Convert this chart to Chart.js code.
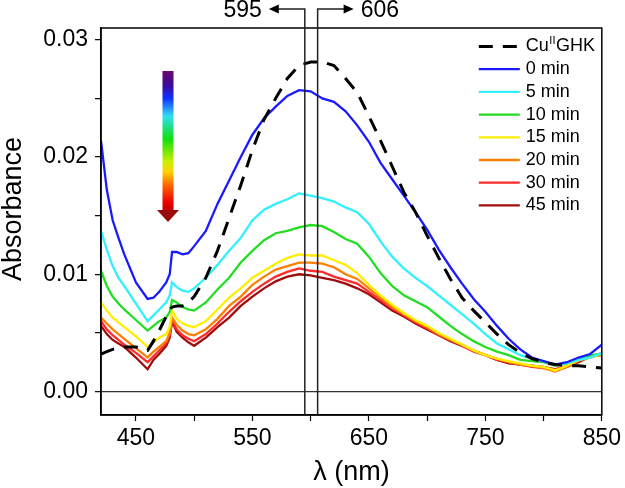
<!DOCTYPE html>
<html>
<head>
<meta charset="utf-8">
<script src="https://cdn.jsdelivr.net/npm/chart.js@4"></script>
<style>
  html, body { margin: 0; padding: 0; background: #fff; }
</style>
</head>
<body>
<canvas id="absChart" width="625" height="488"></canvas>
<script>
// wavelengths (nm) and absorbance values
const wavelengths = [420, 425, 430, 435, 440,
  450, 460, 465, 470, 476,
  479, 481, 485, 490, 495,
  500, 510, 520, 530, 540,
  550, 560, 570, 580, 590, 600, 610, 620, 630, 640,
  650, 660, 670, 680, 690, 700, 710, 720, 730, 740,
  750, 760, 770, 780, 790, 800, 810, 820, 830, 840, 850];

const cuGHK = [.0032, .0034, .0036, .0037, .0038,
  .0038, .0035, .0043, .0052, .0064,
  .0070, .0072, .0073, .0073, .0076,
  .0081, .0097, .0120, .0148, .0176,
  .0206, .0232, .0250, .0267, .0278, .0281, .0281, .0278, .0267, .0255,
  .0235, .0214, .0192, .0170, .0153, .0133, .0114, .0096, .0080, .0069,
  .0059, .0049, .0040, .0033, .0028, .0025, .0023, .0022, .0022, .0021, .0020];

const min0 = [.0214, .0172, .0146, .0131, .0117,
  .0093, .0079, .0080, .0085, .0093,
  .0100, .0119, .0119, .0117, .0118,
  .0124, .0137, .0160, .0180, .0200,
  .0219, .0233, .0243, .0252, .0257, .0256, .0250, .0247, .0239, .0227,
  .0213, .0195, .0181, .0167, .0153, .0138, .0121, .0106, .0092, .0079,
  .0068, .0056, .0045, .0036, .0029, .0026, .0023, .0025, .0029, .0032, .0040];

const min5 = [.0137, .0121, .0107, .0097, .0090,
  .0075, .0060, .0065, .0070, .0076,
  .0082, .0093, .0089, .0086, .0085,
  .0088, .0097, .0108, .0120, .0131,
  .0146, .0155, .0160, .0164, .0169, .0167, .0165, .0162, .0157, .0153,
  .0143, .0128, .0115, .0105, .0097, .0090, .0082, .0074, .0066, .0058,
  .0049, .0041, .0036, .0031, .0028, .0026, .0023, .0024, .0027, .0029, .0033];

const min10 = [.0103, .0090, .0081, .0075, .0070,
  .0061, .0052, .0056, .0060, .0063,
  .0068, .0078, .0076, .0072, .0070,
  .0069, .0076, .0087, .0097, .0110,
  .0120, .0129, .0135, .0137, .0140, .0142, .0141, .0136, .0130, .0126,
  .0115, .0101, .0090, .0082, .0077, .0072, .0064, .0056, .0049, .0043,
  .0038, .0034, .0031, .0027, .0026, .0025, .0022, .0024, .0028, .0031, .0032];

const min15 = [.0076, .0069, .0063, .0059, .0055,
  .0047, .0038, .0042, .0046, .0049,
  .0055, .0069, .0062, .0058, .0056,
  .0055, .0060, .0070, .0080, .0088,
  .0097, .0103, .0109, .0114, .0117, .0116, .0116, .0112, .0108, .0101,
  .0091, .0082, .0074, .0067, .0061, .0056, .0050, .0045, .0040, .0035,
  .0031, .0028, .0026, .0024, .0022, .0021, .0018, .0022, .0027, .0029, .0032];

const min20 = [.0063, .0058, .0053, .0049, .0045,
  .0037, .0029, .0034, .0038, .0043,
  .0050, .0063, .0057, .0052, .0049,
  .0048, .0053, .0062, .0073, .0081,
  .0091, .0098, .0104, .0107, .0110, .0110, .0109, .0106, .0100, .0096,
  .0088, .0080, .0072, .0066, .0060, .0055, .0049, .0044, .0040, .0035,
  .0031, .0028, .0025, .0023, .0022, .0020, .0017, .0021, .0026, .0030, .0031];

const min30 = [.0060, .0053, .0048, .0044, .0040,
  .0033, .0025, .0030, .0035, .0041,
  .0048, .0061, .0053, .0048, .0045,
  .0043, .0049, .0058, .0068, .0077,
  .0085, .0092, .0098, .0102, .0105, .0103, .0102, .0098, .0095, .0092,
  .0085, .0078, .0071, .0065, .0059, .0054, .0048, .0044, .0039, .0034,
  .0031, .0027, .0025, .0023, .0021, .0020, .0019, .0022, .0027, .0029, .0033];

const min45 = [.0056, .0049, .0044, .0041, .0038,
  .0029, .0019, .0027, .0032, .0039,
  .0046, .0060, .0051, .0046, .0042,
  .0039, .0046, .0055, .0063, .0073,
  .0081, .0088, .0094, .0098, .0100, .0099, .0097, .0095, .0092, .0088,
  .0083, .0076, .0069, .0064, .0058, .0053, .0048, .0043, .0039, .0035,
  .0031, .0027, .0024, .0023, .0022, .0021, .0019, .0021, .0025, .0030, .0031];

const seriesLabels = ['CuIIGHK', '0 min', '5 min', '10 min', '15 min', '20 min', '30 min', '45 min'];
const seriesValues = [cuGHK, min0, min5, min10, min15, min20, min30, min45];
const seriesColors = ['#000000', '#1a1aff', '#33f0ff', '#22dd22', '#ffee00', '#ff7f00', '#ff2a2a', '#a00c0c'];

const peakMarks = [595, 606];

const FONT = '"Liberation Sans", Arial, sans-serif';

const toPoints = vals => vals.map((v, i) => ({ x: wavelengths[i], y: v }));

const datasets = seriesValues.map((vals, i) => ({
  label: seriesLabels[i],
  data: toPoints(vals),
  borderColor: seriesColors[i],
  borderWidth: i === 0 ? 3 : 2.3,
  borderDash: i === 0 ? [14, 10] : [],
  pointRadius: 0,
  tension: 0,
  fill: false
}));

const decorations = {
  id: 'decorations',
  afterDraw(chart) {
    const ctx = chart.ctx;
    const area = chart.chartArea;
    const xs = chart.scales.x;
    ctx.save();

    // plot frame
    ctx.strokeStyle = '#000';
    ctx.lineWidth = 1.5;
    ctx.strokeRect(area.left, area.top, area.right - area.left, area.bottom - area.top);

    // 595 / 606 markers
    peakMarks.forEach((nm, i) => {
      const px = xs.getPixelForValue(nm);
      const dir = i === 0 ? -1 : 1;
      const yTop = 9;
      ctx.strokeStyle = '#222';
      ctx.lineWidth = 1.5;
      ctx.beginPath();
      ctx.moveTo(px, area.bottom);
      ctx.lineTo(px, yTop);
      ctx.lineTo(px + dir * 28, yTop);
      ctx.stroke();
      ctx.fillStyle = '#000';
      ctx.beginPath();
      ctx.moveTo(px + dir * 36, yTop);
      ctx.lineTo(px + dir * 26, yTop - 4.5);
      ctx.lineTo(px + dir * 26, yTop + 4.5);
      ctx.closePath();
      ctx.fill();
      ctx.font = '23px ' + FONT;
      ctx.textBaseline = 'middle';
      ctx.textAlign = dir < 0 ? 'right' : 'left';
      ctx.fillText(String(nm), px + dir * 43, yTop + 2);
    });

    // legend
    ctx.textAlign = 'left';
    ctx.textBaseline = 'middle';
    const x0 = area.right - 123, x1 = area.right - 82, tx = area.right - 76;
    chart.data.datasets.forEach((ds, i) => {
      const y = 46.5 + 22.7 * i;
      ctx.strokeStyle = ds.borderColor;
      ctx.lineWidth = ds.borderWidth;
      ctx.setLineDash(ds.borderDash);
      ctx.beginPath();
      ctx.moveTo(x0, y);
      ctx.lineTo(x1, y);
      ctx.stroke();
      ctx.setLineDash([]);
      ctx.fillStyle = '#000';
      ctx.font = '18px ' + FONT;
      if (ds.label === 'CuIIGHK') {
        ctx.fillText('Cu', tx, y);
        let w = ctx.measureText('Cu').width;
        ctx.font = '11px ' + FONT;
        ctx.fillText('II', tx + w + 0.5, y - 6);
        w += ctx.measureText('II').width + 1;
        ctx.font = '18px ' + FONT;
        ctx.fillText('GHK', tx + w, y);
      } else {
        ctx.fillText(ds.label, tx, y);
      }
    });

    // time arrow with rainbow gradient
    const ax = area.left + 67, aTop = 71, shaftEnd = 210, tip = 222;
    const grad = ctx.createLinearGradient(0, aTop, 0, tip);
    grad.addColorStop(0, '#6b0a6b');
    grad.addColorStop(0.1, '#3a0aa0');
    grad.addColorStop(0.18, '#1030ff');
    grad.addColorStop(0.3, '#30e0f0');
    grad.addColorStop(0.45, '#10e010');
    grad.addColorStop(0.6, '#c8f000');
    grad.addColorStop(0.67, '#ffd000');
    grad.addColorStop(0.76, '#ff6000');
    grad.addColorStop(0.87, '#ee0000');
    grad.addColorStop(1, '#800000');
    ctx.fillStyle = grad;
    ctx.fillRect(ax - 5.5, aTop, 11, shaftEnd - aTop);
    ctx.fillStyle = '#9a0a0a';
    ctx.beginPath();
    ctx.moveTo(ax - 11, shaftEnd);
    ctx.lineTo(ax + 11, shaftEnd);
    ctx.lineTo(ax, tip);
    ctx.closePath();
    ctx.fill();

    // axis titles
    ctx.fillStyle = '#000';
    ctx.font = '27px ' + FONT;
    ctx.textAlign = 'center';
    ctx.textBaseline = 'middle';
    ctx.fillText('λ (nm)', (area.left + area.right) / 2, 473);
    ctx.translate(14, 209);
    ctx.rotate(-Math.PI / 2);
    ctx.fillText('Absorbance', 0, 0);
    ctx.restore();
  }
};

new Chart(document.getElementById('absChart'), {
  type: 'line',
  data: { datasets: datasets },
  options: {
    responsive: false,
    animation: false,
    layout: { padding: { top: 28, right: 20, left: 0, bottom: 0 } },
    plugins: { legend: { display: false }, tooltip: { enabled: false } },
    scales: {
      x: {
        type: 'linear',
        min: 420,
        max: 850,
        afterFit: s => { s.height = 73; },
        border: { color: '#000', width: 1.5 },
        grid: { drawOnChartArea: false, tickColor: '#000', tickLength: 6, tickWidth: 1.2 },
        ticks: {
          stepSize: 50,
          includeBounds: false,
          autoSkip: false,
          maxRotation: 0,
          padding: 4,
          color: '#000',
          font: { family: FONT, size: 23 },
          callback: v => (v % 100 === 50 ? String(v) : '')
        }
      },
      y: {
        min: -0.002,
        max: 0.031,
        afterFit: s => { s.width = 101; },
        border: { color: '#000', width: 1.5 },
        grid: {
          drawOnChartArea: true,
          color: c => (c.tick && Math.abs(c.tick.value) < 1e-9 ? '#333' : 'rgba(0,0,0,0)'),
          lineWidth: 1.3,
          tickColor: '#000',
          tickLength: 6,
          tickWidth: 1.2
        },
        ticks: {
          stepSize: 0.005,
          includeBounds: false,
          autoSkip: false,
          padding: 7,
          color: '#000',
          font: { family: FONT, size: 23 },
          callback: v => {
            const r = Math.round(v * 100);
            return Math.abs(v * 100 - r) < 1e-6 ? (r / 100).toFixed(2) : '';
          }
        }
      }
    }
  },
  plugins: [decorations]
});
</script>
</body>
</html>
